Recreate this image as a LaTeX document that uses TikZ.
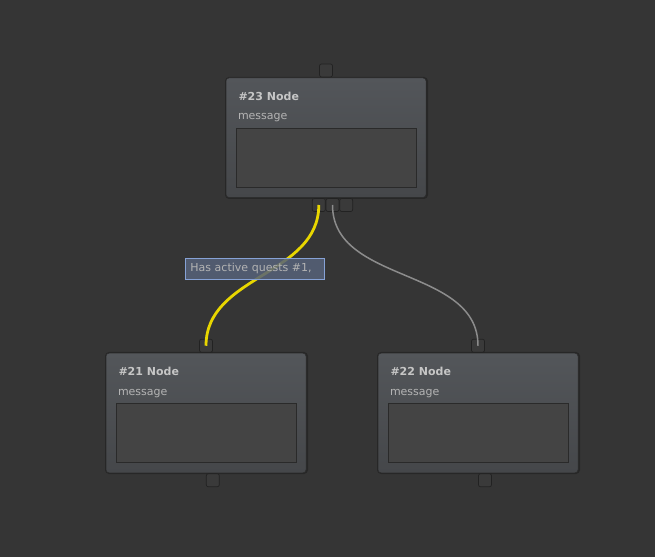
\documentclass[tikz,border=0pt]{standalone}
\usepackage{fontspec}
\setmainfont{DejaVu Sans}
\usepackage{tikz}
\usetikzlibrary{positioning,calc}

\definecolor{canvas}{HTML}{353535}
\definecolor{boxtop}{HTML}{53565A}
\definecolor{boxbot}{HTML}{45474A}
\definecolor{boxline}{HTML}{2C2C2C}
\definecolor{fieldbg}{HTML}{444444}
\definecolor{fieldline}{HTML}{2A2A2A}
\definecolor{portbg}{HTML}{3A3A3A}
\definecolor{portline}{HTML}{222222}
\definecolor{titletext}{HTML}{C6C6C6}
\definecolor{msgtext}{HTML}{B4B4B4}
\definecolor{linkyellow}{HTML}{E8D600}
\definecolor{linkgray}{HTML}{8C8C8C}
\definecolor{tagbg}{HTML}{56627A}
\definecolor{tagline}{HTML}{86A2D6}

\begin{document}
\begin{tikzpicture}[x=1pt, y=1pt, semithick]
\tikzstyle{every node}=[inner sep=0pt, outer sep=0pt]
\tikzstyle{nodebox}=[rectangle, rounded corners=3pt, minimum width=200pt, minimum height=119.5pt,
  top color=boxtop, bottom color=boxbot, draw=boxline, line width=0.5pt]
\tikzstyle{field}=[rectangle, minimum width=180pt, minimum height=59.5pt,
  fill=fieldbg, draw=fieldline, line width=0.8pt]
\tikzstyle{port}=[rectangle, rounded corners=2pt, minimum size=13pt,
  fill=portbg, draw=portline, line width=0.7pt]
\tikzstyle{title}=[anchor=west, text=titletext, font=\fontsize{11}{13}\selectfont\bfseries]
\tikzstyle{msg}=[anchor=west, text=msgtext, font=\fontsize{11}{13}\selectfont]
\tikzstyle{tag}=[rectangle, anchor=west, minimum width=139.5pt, minimum height=21pt,
  fill=tagbg, fill opacity=0.85, text opacity=1, draw=tagline, line width=0.7pt,
  text=msgtext, font=\fontsize{11}{13}\selectfont, align=left, text width=129.5pt, inner xsep=5pt]

% background
\fill[canvas] (0,0) rectangle (655,557);
\useasboundingbox (0,0) rectangle (655,557);

% node boxes
\fill[black, opacity=0.25, rounded corners=4pt] (225,358) rectangle (428,480);
\node[nodebox] (n23) at (326,419.3) {};
\fill[black, opacity=0.25, rounded corners=4pt] (105,83) rectangle (308,205);
\node[nodebox] (n21) at (206,144) {};
\fill[black, opacity=0.25, rounded corners=4pt] (377,83) rectangle (580,205);
\node[nodebox] (n22) at (478,144) {};

\foreach \n/\t in {n23/\#23 Node, n21/\#21 Node, n22/\#22 Node}{
  \node[title] (\n title) at ($(\n.north west)+(12.5,-18)$) {\t};
  \node[msg] (\n msg) at ($(\n.north west)+(12,-40)$) {message};
  \node[field, anchor=north] (\n field) at ($(\n.north)+(0,-50)$) {};
}

% ports
\node[port] (p23in)  [above=1pt of n23] {};
\node[port] (p23a)   at (318.8,352) {};
\node[port] (p23b)   [right=0.7pt of p23a] {};
\node[port] (p23c)   [right=0.7pt of p23b] {};
\node[port] (p21in)  [above=1pt of n21] {};
\node[port] (p21out) at ($(n21.south)+(6.8,-7.5)$) {};
\node[port] (p22in)  [above=1pt of n22] {};
\node[port] (p22out) at ($(n22.south)+(7,-7.5)$) {};

% links
\draw[linkgray, line width=1.5pt] (p23b.center) to[out=-90, in=90] (p22in.center);
\draw[linkyellow, line width=2.8pt] (p23a.center) to[out=-90, in=90] (p21in.center);

% link label
\node[tag] (cond) at (185.3,288.2) {Has active quests \#1,};

\end{tikzpicture}
\end{document}
